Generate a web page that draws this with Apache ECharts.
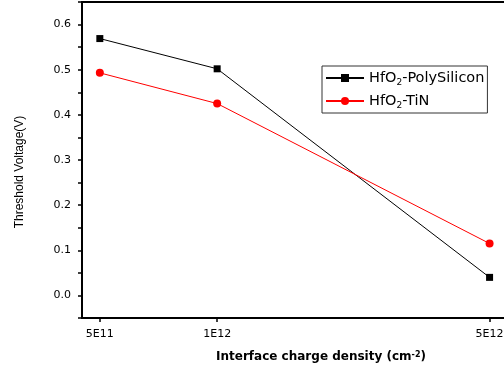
<!DOCTYPE html>
<html><head><meta charset="utf-8">
<script src="https://cdn.jsdelivr.net/npm/echarts@6/dist/echarts.min.js"></script>
<style>html,body{margin:0;padding:0;background:#fff;overflow:hidden}#c{width:504px;height:367px}</style>
</head><body><div id="c"></div>
<script>
const categories = ['5E11', '1E12', '5E12'];
const densities = [5e11, 1e12, 5e12];
const polySilicon = [0.569, 0.502, 0.040];
const tiN = [0.493, 0.425, 0.115];
const yTicks = [0.0, 0.1, 0.2, 0.3, 0.4, 0.5, 0.6];

const FONT = '"DejaVu Sans", sans-serif';
const VFONT = '"Liberation Sans", Arial, sans-serif';
const chart = echarts.init(document.getElementById('c'), null, {renderer: 'canvas'});
const axisLineStyle = {color: '#000', width: 2};
const X_MIN = 4.5e11, X_MAX = 7.58e12;
chart.setOption({
  animation: false,
  backgroundColor: '#fff',
  textStyle: {fontFamily: FONT},
  grid: {left: 82, top: 2, bottom: 49, right: -56, containLabel: false, outerBoundsMode: 'none',
    show: true, borderColor: '#000', borderWidth: 2, backgroundColor: 'transparent'},
  xAxis: {
    type: 'log', logBase: 10, min: X_MIN, max: X_MAX, position: 'bottom',
    axisLine: {onZero: false, lineStyle: axisLineStyle},
    axisTick: {customValues: densities, length: 4, lineStyle: {color: '#000', width: 1.5}},
    axisLabel: {customValues: densities, color: '#000', fontSize: 11, margin: 11, fontFamily: FONT,
      formatter: v => { const i = densities.findIndex(d => Math.abs(d - v) / d < 1e-6); return i >= 0 ? categories[i] : ''; }},
    splitLine: {show: false}, minorTick: {show: false},
    name: '{t|Interface charge density (cm}{s|-2}{t|)}', nameLocation: 'middle', nameGap: 33,
    nameTextStyle: {rich: {t: {fontSize: 12, fontWeight: 'bold', color: '#000', fontFamily: FONT}, s: {fontSize: 8, fontWeight: 'bold', color: '#000', verticalAlign: 'top', fontFamily: FONT}}}
  },
  yAxis: {
    type: 'value', min: -0.05, max: 0.65, interval: 0.05, position: 'left',
    axisLine: {show: true, onZero: false, lineStyle: axisLineStyle},
    axisTick: {show: true, length: 4, lineStyle: {color: '#000', width: 1.5}},
    axisLabel: {customValues: yTicks, color: '#000', fontSize: 11, margin: 11, fontFamily: FONT, formatter: v => v.toFixed(1)},
    splitLine: {show: false},
    name: 'Threshold Voltage(V)', nameLocation: 'middle', nameGap: 56,
    nameTextStyle: {fontSize: 12, color: '#000', fontFamily: VFONT, padding: [0, 24, 0, 0]}
  },
  legend: {
    orient: 'vertical', left: 322, top: 66, width: 164,
    borderColor: '#333', borderWidth: 1, padding: [3, 3, 3, 3], itemGap: 5,
    itemWidth: 38, itemHeight: 10,
    formatter: n => n === 'poly' ? '{t|HfO}{s|2}{t|-PolySilicon}' : '{t|HfO}{s|2}{t|-TiN}',
    textStyle: {lineHeight: 18, rich: {t: {fontSize: 14.5, color: '#000', fontFamily: FONT, lineHeight: 18}, s: {fontSize: 9, color: '#000', fontFamily: FONT, verticalAlign: 'bottom', lineHeight: 18}}},
    data: ['poly', 'tin']
  },
  series: [{
    name: 'poly', type: 'line',
    data: densities.map((d, i) => [d, polySilicon[i]]),
    symbol: 'rect', symbolSize: 7,
    lineStyle: {color: '#000', width: 1}, itemStyle: {color: '#000'}
  }, {
    name: 'tin', type: 'line',
    data: densities.map((d, i) => [d, tiN[i]]),
    symbol: 'circle', symbolSize: 8,
    lineStyle: {color: '#f00', width: 1}, itemStyle: {color: '#f00'}
  }]
});
</script></body></html>
